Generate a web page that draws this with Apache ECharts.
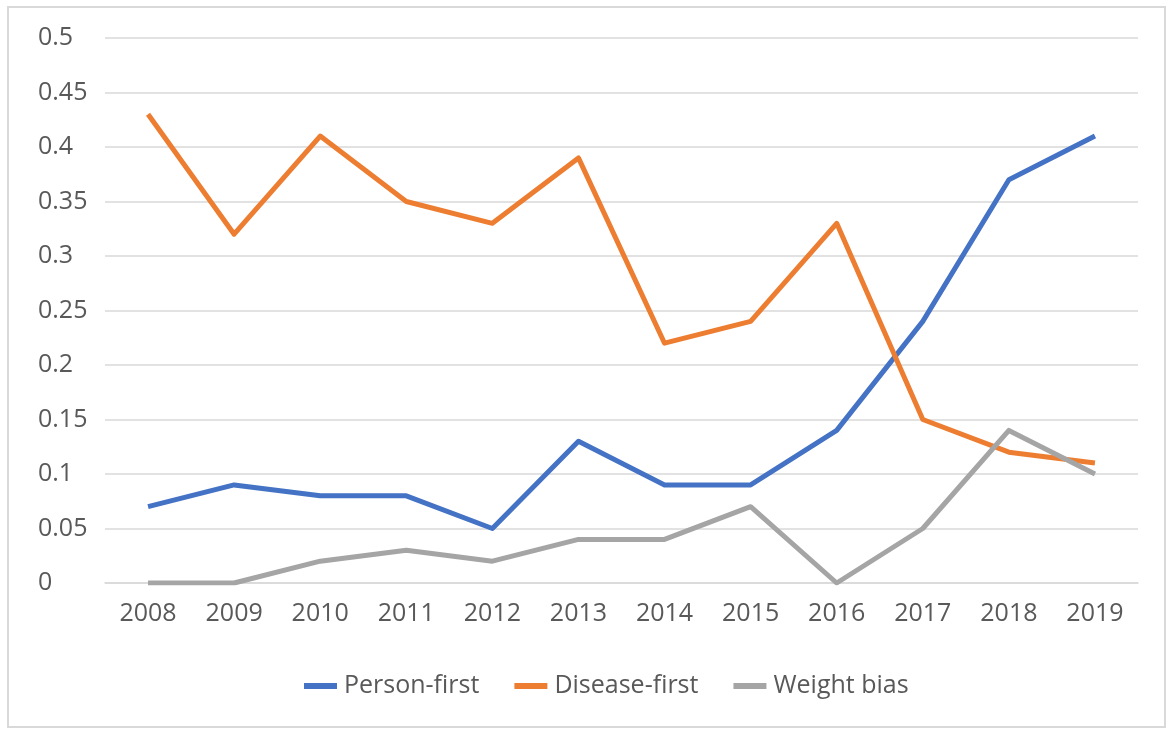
<!DOCTYPE html>
<html>
<head>
<meta charset="utf-8">
<script src="https://cdn.jsdelivr.net/npm/echarts@6/dist/echarts.min.js"></script>
<style>
html,body{margin:0;padding:0;background:#fff;}
#frame{position:absolute;left:7px;top:6px;width:1159px;height:722px;border:2px solid #d9d9d9;box-sizing:border-box;}
#c{position:absolute;left:0;top:0;width:1176px;height:737px;}
</style>
</head>
<body>
<div id="frame"></div>
<div id="c"></div>
<script>
const years = ['2008','2009','2010','2011','2012','2013','2014','2015','2016','2017','2018','2019'];
const personFirst = [0.07,0.09,0.08,0.08,0.05,0.13,0.09,0.09,0.14,0.24,0.37,0.41];
const diseaseFirst = [0.43,0.32,0.41,0.35,0.33,0.39,0.22,0.24,0.33,0.15,0.12,0.11];
const weightBias = [0,0,0.02,0.03,0.02,0.04,0.04,0.07,0,0.05,0.14,0.10];
const seriesNames = ['Person-first','Disease-first','Weight bias'];
const colors = ['#4472C4','#ED7D31','#A5A5A5'];

const chart = echarts.init(document.getElementById('c'));
const font = 'Open Sans';
function mk(name, data, color){
  return {name, type:'line', data, symbol:'none', smooth:false,
    lineStyle:{width:5, color, cap:'butt', join:'round'}, itemStyle:{color}};
}
chart.setOption({
  animation:false,
  color: colors,
  grid:{left:105, right:38, top:38, bottom:154, containLabel:false},
  legend:{
    top:673, left:304, itemWidth:33, itemHeight:6, itemGap:35,
    icon:'rect', padding:0,
    textStyle:{fontFamily:font, fontSize:25, lineHeight:26, color:'#595959', padding:[0,0,0,2]},
    data: seriesNames
  },
  xAxis:{
    type:'category', data:years, boundaryGap:true,
    axisLine:{show:true, lineStyle:{color:'#d9d9d9', width:1.5}},
    axisTick:{show:false},
    axisLabel:{fontFamily:font, fontSize:25, color:'#595959', margin:18}
  },
  yAxis:{
    type:'value', min:0, max:0.5, interval:0.05,
    axisLine:{show:false}, axisTick:{show:false},
    splitLine:{lineStyle:{color:'#d9d9d9', width:1.5}},
    axisLabel:{fontFamily:font, fontSize:25, color:'#595959', align:'left', margin:67,
      formatter: v => String(parseFloat(v.toFixed(2)))}
  },
  series:[
    mk(seriesNames[0], personFirst, colors[0]),
    mk(seriesNames[1], diseaseFirst, colors[1]),
    mk(seriesNames[2], weightBias, colors[2])
  ]
});
</script>
</body>
</html>
